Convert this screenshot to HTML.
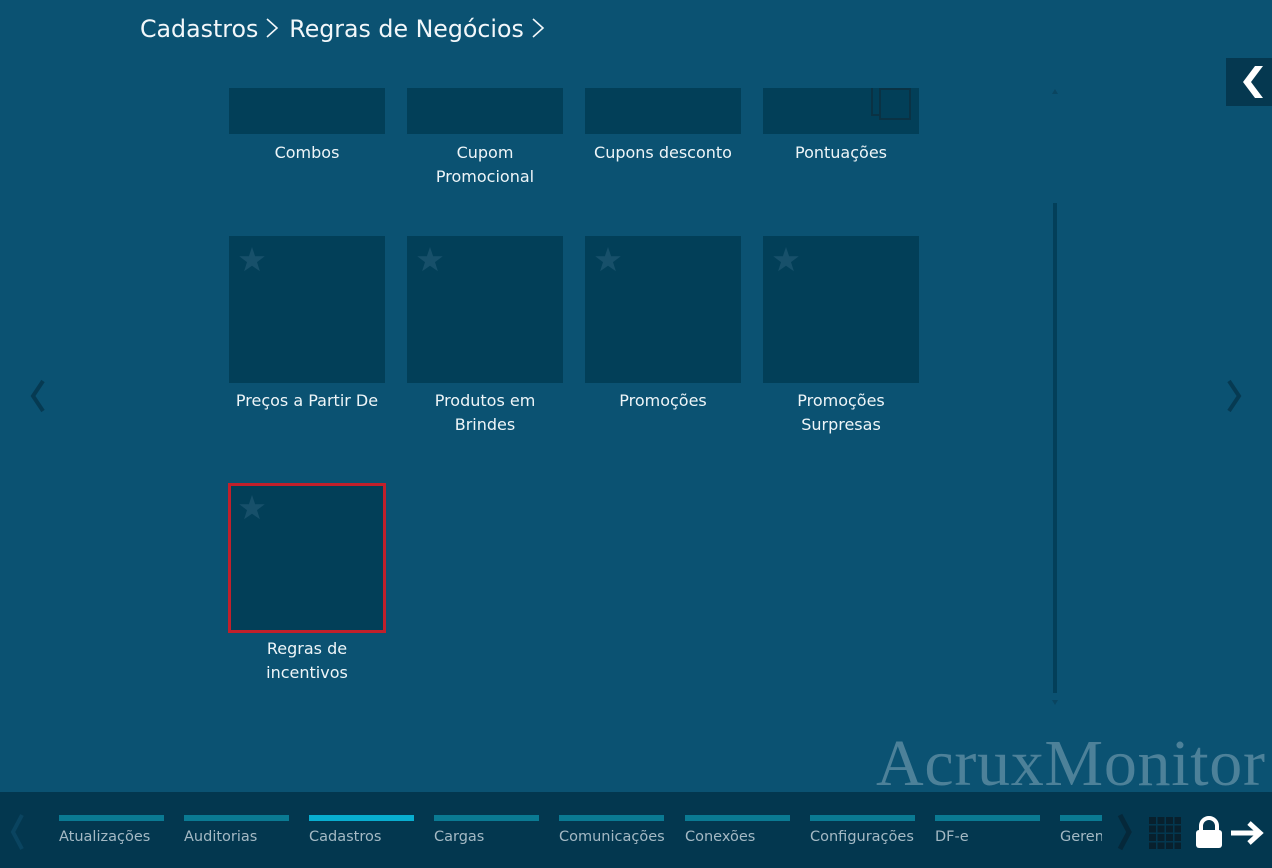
<!DOCTYPE html>
<html><head><meta charset="utf-8">
<style>
*{margin:0;padding:0;box-sizing:border-box}
html,body{width:1272px;height:868px;overflow:hidden}
body{background:#0b5272;font-family:"DejaVu Sans","Liberation Sans",sans-serif;position:relative;color:#eef5f8}
.abs{position:absolute}
.crumb{left:140px;top:13px;font-size:23.7px;line-height:32px;color:#f2f7fa;white-space:nowrap}
.clip{left:0;top:88px;width:1050px;height:700px;overflow:hidden}
.tile{position:absolute;width:156px;height:147px;background:#023f58}
.lbl{position:absolute;width:156px;text-align:center;font-size:16px;line-height:24px;color:#eef5f8}
.star{position:absolute;left:10px;top:11px}
.bar{left:0;top:792px;width:1272px;height:76px;background:#03374f}
.tabs{left:0;top:0;width:1102px;height:76px;overflow:hidden}
.tab{position:absolute;top:23px;width:105px}
.tab .t{height:6px;background:#0a7a93}
.tab .n{font-size:14.5px;color:#a4b9c4;margin-top:7px;white-space:nowrap;line-height:18px}
.wm{left:876px;top:729px;font-family:"Liberation Serif",serif;font-size:66px;line-height:70px;color:#4d8199;white-space:nowrap;letter-spacing:0.7px}
</style></head><body>

<div class="abs crumb">Cadastros<svg width="22" height="22" style="vertical-align:-2px;margin-left:5px;margin-right:4px" viewBox="0 0 22 22"><polyline points="4,2 14,11 4,20" fill="none" stroke="#f2f7fa" stroke-width="1.6"/></svg>Regras de Negócios<svg width="20" height="22" style="vertical-align:-2px;margin-left:5px" viewBox="0 0 20 22"><polyline points="4,2 14,11 4,20" fill="none" stroke="#f2f7fa" stroke-width="1.6"/></svg></div>

<div class="abs clip">
  <div class="tile" style="left:229px;top:-101px"></div>
  <div class="tile" style="left:407px;top:-101px"></div>
  <div class="tile" style="left:585px;top:-101px"></div>
  <div class="tile" style="left:763px;top:-101px">
    <svg class="abs" style="left:107px;top:95px" width="44" height="45" viewBox="0 0 44 45">
      <polyline points="2,0 2,33 10,33" fill="none" stroke="#0a3244" stroke-width="2"/>
      <polyline points="32,0 32,6" fill="none" stroke="#0a3244" stroke-width="2"/>
      <rect x="10" y="7" width="30" height="30" fill="none" stroke="#0a3244" stroke-width="2"/>
    </svg>
  </div>
  <div class="lbl" style="left:229px;top:53px">Combos</div>
  <div class="lbl" style="left:407px;top:53px">Cupom<br>Promocional</div>
  <div class="lbl" style="left:585px;top:53px">Cupons desconto</div>
  <div class="lbl" style="left:763px;top:53px">Pontuações</div>

  <div class="tile" style="left:229px;top:148px"><svg class="star" width="26" height="25" viewBox="0 0 26 25"><polygon points="13,0 16.1,9.2 25.8,9.3 18,15.1 20.9,24.3 13,18.7 5.1,24.3 8,15.1 0.2,9.3 9.9,9.2" fill="#17506a"/></svg></div>
  <div class="tile" style="left:407px;top:148px"><svg class="star" width="26" height="25" viewBox="0 0 26 25"><polygon points="13,0 16.1,9.2 25.8,9.3 18,15.1 20.9,24.3 13,18.7 5.1,24.3 8,15.1 0.2,9.3 9.9,9.2" fill="#17506a"/></svg></div>
  <div class="tile" style="left:585px;top:148px"><svg class="star" width="26" height="25" viewBox="0 0 26 25"><polygon points="13,0 16.1,9.2 25.8,9.3 18,15.1 20.9,24.3 13,18.7 5.1,24.3 8,15.1 0.2,9.3 9.9,9.2" fill="#17506a"/></svg></div>
  <div class="tile" style="left:763px;top:148px"><svg class="star" width="26" height="25" viewBox="0 0 26 25"><polygon points="13,0 16.1,9.2 25.8,9.3 18,15.1 20.9,24.3 13,18.7 5.1,24.3 8,15.1 0.2,9.3 9.9,9.2" fill="#17506a"/></svg></div>
  <div class="lbl" style="left:229px;top:301px">Preços a Partir De</div>
  <div class="lbl" style="left:407px;top:301px">Produtos em<br>Brindes</div>
  <div class="lbl" style="left:585px;top:301px">Promoções</div>
  <div class="lbl" style="left:763px;top:301px">Promoções<br>Surpresas</div>

  <div class="tile" style="left:228px;top:395px;width:158px;height:150px;border:3px solid #c1202b"><svg class="star" style="left:8px;top:9px" width="26" height="25" viewBox="0 0 26 25"><polygon points="13,0 16.1,9.2 25.8,9.3 18,15.1 20.9,24.3 13,18.7 5.1,24.3 8,15.1 0.2,9.3 9.9,9.2" fill="#17506a"/></svg></div>
  <div class="lbl" style="left:229px;top:549px">Regras de<br>incentivos</div>
</div>

<svg class="abs" style="left:1048px;top:86px" width="16" height="624" viewBox="0 0 16 624">
  <polygon points="7,3 10,8 4,8" fill="#0a4560"/>
  <rect x="5" y="117" width="4" height="490" fill="#033f59"/>
  <polygon points="4,614 10,614 7,619" fill="#0a4560"/>
</svg>

<div class="abs" style="left:1226px;top:58px;width:46px;height:48px;background:#053850"></div>
<svg class="abs" style="left:1226px;top:58px" width="46" height="48" viewBox="0 0 46 48">
  <polygon points="29,8 37,8 25,24 37,40 29,40 17,24" fill="#ffffff"/>
</svg>

<svg class="abs" style="left:28px;top:378px" width="22" height="36" viewBox="0 0 22 36">
  <polyline points="15,3 5,18 15,33" fill="none" stroke="#063a52" stroke-width="4"/>
</svg>
<svg class="abs" style="left:1224px;top:378px" width="22" height="36" viewBox="0 0 22 36">
  <polyline points="5,3 15,18 5,33" fill="none" stroke="#063a52" stroke-width="4"/>
</svg>

<div class="abs wm">AcruxMonitor</div>

<div class="abs bar">
  <svg class="abs" style="left:6px;top:20px" width="22" height="40" viewBox="0 0 22 40">
    <polyline points="16,3 7,20 16,37" fill="none" stroke="#0a4460" stroke-width="4"/>
  </svg>
  <div class="abs tabs">
    <div class="tab" style="left:59px"><div class="t"></div><div class="n">Atualizações</div></div>
    <div class="tab" style="left:184px"><div class="t"></div><div class="n">Auditorias</div></div>
    <div class="tab" style="left:309px"><div class="t" style="background:#08aed0"></div><div class="n">Cadastros</div></div>
    <div class="tab" style="left:434px"><div class="t"></div><div class="n">Cargas</div></div>
    <div class="tab" style="left:559px"><div class="t"></div><div class="n">Comunicações</div></div>
    <div class="tab" style="left:685px"><div class="t"></div><div class="n">Conexões</div></div>
    <div class="tab" style="left:810px"><div class="t"></div><div class="n">Configurações</div></div>
    <div class="tab" style="left:935px"><div class="t"></div><div class="n">DF-e</div></div>
    <div class="tab" style="left:1060px"><div class="t"></div><div class="n">Gerenciamento</div></div>
  </div>
  <svg class="abs" style="left:1114px;top:20px" width="22" height="40" viewBox="0 0 22 40">
    <polyline points="6,3 15,20 6,37" fill="none" stroke="#05283a" stroke-width="5"/>
  </svg>
  <svg class="abs" style="left:1149px;top:25px" width="32" height="32" viewBox="0 0 32 32" fill="#08202d">
    <rect x="0" y="0" width="7" height="7"/><rect x="8.5" y="0" width="7" height="7"/><rect x="17" y="0" width="7" height="7"/><rect x="25.5" y="0" width="6.5" height="7"/>
    <rect x="0" y="8.5" width="7" height="7"/><rect x="8.5" y="8.5" width="7" height="7"/><rect x="17" y="8.5" width="7" height="7"/><rect x="25.5" y="8.5" width="6.5" height="7"/>
    <rect x="0" y="17" width="7" height="7"/><rect x="8.5" y="17" width="7" height="7"/><rect x="17" y="17" width="7" height="7"/><rect x="25.5" y="17" width="6.5" height="7"/>
    <rect x="0" y="25.5" width="7" height="6.5"/><rect x="8.5" y="25.5" width="7" height="6.5"/><rect x="17" y="25.5" width="7" height="6.5"/><rect x="25.5" y="25.5" width="6.5" height="6.5"/>
  </svg>
  <svg class="abs" style="left:1195px;top:24px" width="28" height="34" viewBox="0 0 28 34">
    <path d="M6,15 V10 a8,8 0 0 1 16,0 V15" fill="none" stroke="#ffffff" stroke-width="4"/>
    <rect x="1" y="14" width="26" height="18" rx="3" fill="#ffffff"/>
  </svg>
  <svg class="abs" style="left:1229px;top:28px" width="36" height="26" viewBox="0 0 36 26">
    <polyline points="2,13 30,13" fill="none" stroke="#ffffff" stroke-width="5"/>
    <polyline points="20,3 31,13 20,23" fill="none" stroke="#ffffff" stroke-width="5"/>
  </svg>
</div>

</body></html>
